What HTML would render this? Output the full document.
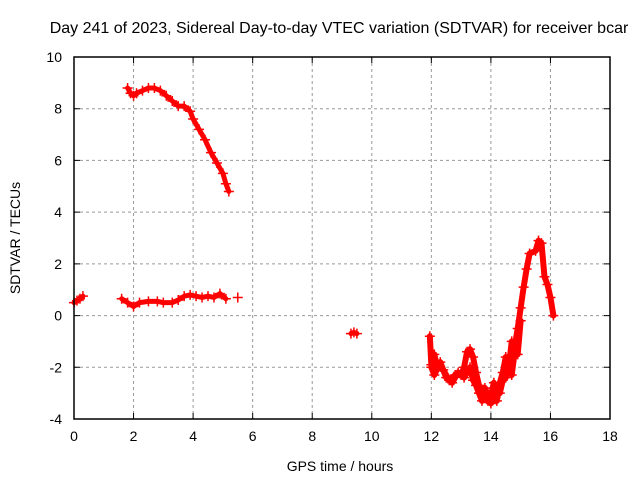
<!DOCTYPE html>
<html><head><meta charset="utf-8"><style>
body{margin:0;background:#fff;}
svg{display:block;font-family:"Liberation Sans",sans-serif;}
</style></head><body>
<svg id="chart" width="640" height="480">
<text x="339" y="33" font-size="16" text-anchor="middle">Day 241 of 2023, Sidereal Day-to-day VTEC variation (SDTVAR) for receiver bcar</text>
<text x="340" y="471" font-size="14" text-anchor="middle">GPS time / hours</text>
<text x="20" y="238" font-size="14" text-anchor="middle" transform="rotate(-90 20 238)">SDTVAR / TECUs</text>
<g id="grid"></g><g id="ticks"></g><g id="data"></g>
<rect x="74" y="57" width="536" height="362" fill="none" stroke="#000" stroke-width="1.5"/>
</svg>
<script>
const xTicks=[0,2,4,6,8,10,12,14,16,18];
const yTicks=[-4,-2,0,2,4,6,8,10];
const segA=[[0,0.5],[0.1,0.58],[0.2,0.65],[0.3,0.75]];
const segB=[[1.8,8.8],[1.9,8.6],[2.0,8.5],[2.1,8.6],[2.3,8.7],[2.5,8.8],[2.7,8.8],[2.9,8.7],[3.1,8.5],[3.3,8.3],[3.5,8.1],[3.7,8.1],[3.9,7.9],[4.0,7.6],[4.2,7.2],[4.4,6.8],[4.6,6.3],[4.8,5.9],[5.0,5.5],[5.1,5.1],[5.2,4.8]];
const segC=[[1.6,0.65],[1.8,0.5],[2.0,0.35],[2.2,0.5],[2.5,0.55],[2.8,0.55],[3.0,0.5],[3.3,0.5],[3.5,0.6],[3.7,0.75],[3.9,0.8],[4.1,0.75],[4.3,0.7],[4.5,0.75],[4.7,0.7],[4.9,0.85],[5.1,0.65]];
const segC2=[[5.5,0.7]];
const segD=[[9.3,-0.7],[9.4,-0.65],[9.5,-0.7]];
const segE=[[11.95,-0.8],[12.0,-1.9],[12.1,-1.5],[12.2,-2.0],[12.4,-2.1],[12.6,-2.5],[12.8,-2.3],[13.0,-2.3],[13.1,-2.0],[13.2,-1.4],[13.3,-1.3],[13.4,-1.6],[13.5,-2.2],[13.6,-2.7],[13.7,-3.0],[13.8,-3.2],[13.9,-3.3],[14.0,-3.1],[14.1,-2.6],[14.2,-3.3],[14.3,-2.6],[14.4,-2.2],[14.5,-1.6],[14.6,-2.0],[14.7,-1.0],[14.8,-1.2],[14.9,-0.5],[15.0,0.3],[15.1,1.1],[15.2,1.8],[15.3,2.4],[15.5,2.5],[15.6,2.9],[15.7,2.8],[15.8,1.5],[15.9,1.2],[16.0,0.7],[16.1,0.0]];
const segE2=[[12.0,-2.0],[12.1,-2.3],[12.3,-1.8],[12.5,-2.4],[12.7,-2.6],[12.9,-2.2],[13.1,-2.4],[13.3,-2.0],[13.4,-2.5],[13.5,-2.7],[13.6,-3.0],[13.7,-3.3],[13.8,-2.8],[13.9,-3.1],[14.0,-3.4],[14.1,-3.2],[14.2,-2.9],[14.3,-3.0],[14.4,-2.5],[14.5,-2.4],[14.6,-1.7],[14.7,-2.3],[14.8,-1.4],[14.9,-1.5],[15.0,-0.2]];
const segments=[segA,segB,segC,segC2,segD,segE,segE2];
const NS="http://www.w3.org/2000/svg";
const X=v=>74+v*536/18, Y=v=>419-(v+4)*362/14;
const grid=document.getElementById('grid'), ticks=document.getElementById('ticks'), data=document.getElementById('data');
function mk(t,a,p){const e=document.createElementNS(NS,t);for(const k in a)e.setAttribute(k,a[k]);p.appendChild(e);return e;}
xTicks.forEach(v=>{
 if(v>0&&v<18){const l=mk('line',{x1:X(v),x2:X(v),y1:57,y2:419,stroke:'#999','stroke-dasharray':'3,3'},grid);
 
 }
 const tk=mk('path',{d:`M${X(v)},419v-6M${X(v)},57v6`,stroke:'#000'},grid);
 
 
 const t=mk('text',{x:X(v),y:441,'font-size':14,'text-anchor':'middle'},ticks);t.textContent=v;
 
 
});
yTicks.forEach(v=>{
 if(v>-4&&v<10){const l=mk('line',{x1:74,x2:610,y1:Y(v),y2:Y(v),stroke:'#999','stroke-dasharray':'3,3'},grid);
 
 }
 const tk=mk('path',{d:`M74,${Y(v)}h6M610,${Y(v)}h-6`,stroke:'#000'},grid);
 
 
 const t=mk('text',{x:62,y:Y(v)+5,'font-size':14,'text-anchor':'end'},ticks);t.textContent=v;
 
 
});
segments.forEach(s=>{
 const w=(s===segE||s===segE2)?6:5;
 const pl=mk('polyline',{points:s.map(p=>X(p[0])+','+Y(p[1])).join(' '),fill:'none',stroke:'#f00','stroke-width':w,'stroke-linejoin':'round','stroke-linecap':'round'},data);
 
 
 s.forEach(p=>{
  const m=mk('path',{d:`M${X(p[0])-5},${Y(p[1])}h10M${X(p[0])},${Y(p[1])-5}v10`,stroke:'#f00','stroke-width':1.5},data);
  
  
 });
});
</script>
</body></html>
